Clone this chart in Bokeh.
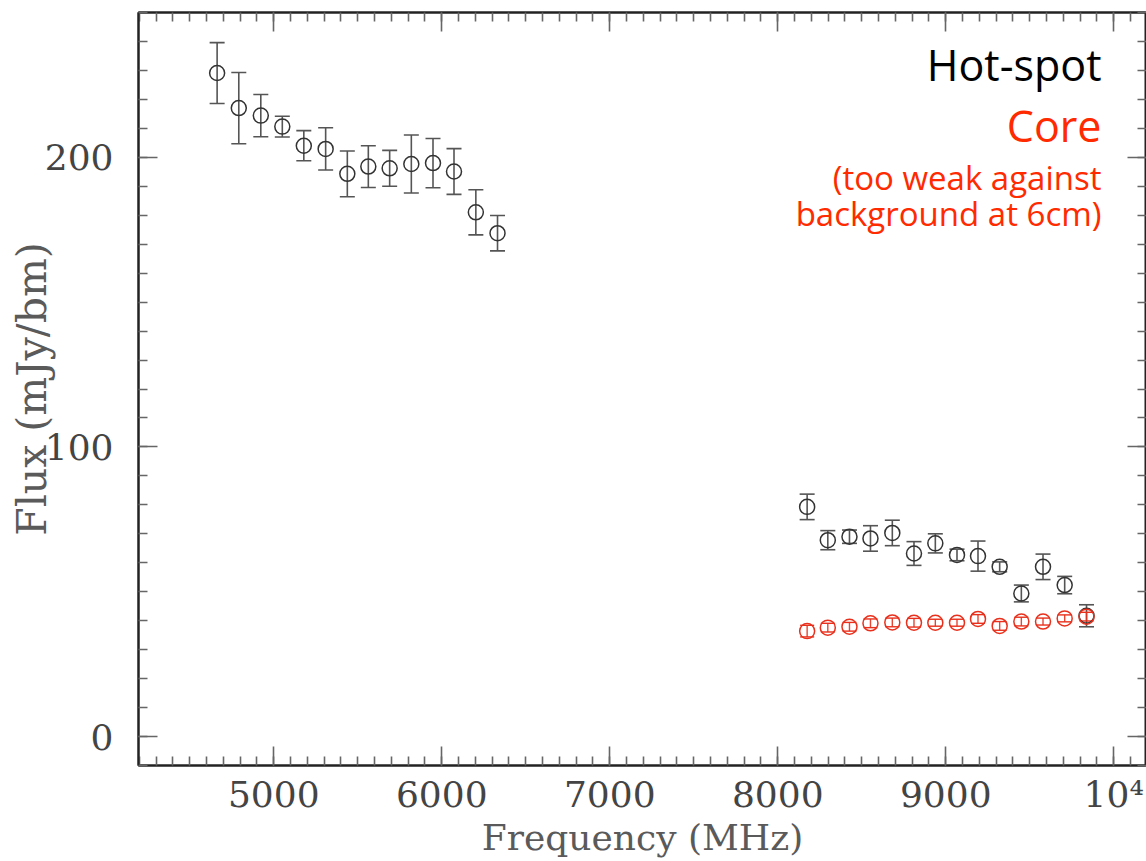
from bokeh.plotting import figure
from bokeh.models import (ColumnDataSource, Whisker, TeeHead, LinearAxis,
                          SingleIntervalTicker, Range1d, Label)
from bokeh.embed import file_html
from bokeh.resources import INLINE

# ---------------- data ----------------
hotspot_freq = [4663, 4792, 4923, 5051, 5179, 5309, 5438, 5563, 5690, 5819, 5948, 6073, 6203, 6332,
                8175, 8298, 8427, 8552, 8682, 8811, 8938, 9067, 9192, 9321, 9450, 9579, 9708, 9838]
hotspot_flux = [229.1, 217.0, 214.4, 210.6, 204.0, 202.9, 194.3, 196.8, 196.2, 197.7, 198.0, 195.1, 181.0, 173.8,
                79.3, 67.8, 69.0, 68.4, 70.3, 63.2, 66.7, 62.7, 62.3, 58.6, 49.4, 58.6, 52.3, 41.7]
hotspot_err = [10.5, 12.3, 7.3, 3.6, 5.2, 7.3, 7.9, 7.2, 6.2, 10.0, 8.5, 7.9, 7.8, 6.1,
               4.4, 3.3, 2.3, 4.4, 4.4, 4.1, 3.3, 2.0, 5.2, 1.7, 2.9, 4.4, 3.0, 3.8]

core_freq = [8175, 8298, 8427, 8552, 8682, 8811, 8938, 9067, 9192, 9321, 9450, 9579, 9708, 9838]
core_flux = [36.4, 37.6, 37.9, 39.1, 39.4, 39.3, 39.3, 39.3, 40.6, 38.2, 39.7, 39.7, 40.8, 41.4]
core_err = [2.0, 1.5, 1.5, 1.5, 1.5, 1.5, 1.2, 1.2, 1.5, 1.5, 1.5, 1.2, 1.2, 1.5]

x_tick_overrides = {10000: "10\u2074"}
x_label = "Frequency (MHz)"
y_label = "Flux (mJy/bm)"
annotations = ["Hot-spot", "Core", "(too weak against", "background at 6cm)"]

BLACK = "#333333"
RED = "#e8301c"
TXT_RED = "#ff2a00"
FONT = "DejaVu Serif"

hs = ColumnDataSource(dict(
    x=hotspot_freq, y=hotspot_flux,
    lo=[v - e for v, e in zip(hotspot_flux, hotspot_err)],
    hi=[v + e for v, e in zip(hotspot_flux, hotspot_err)]))
co = ColumnDataSource(dict(
    x=core_freq, y=core_flux,
    lo=[v - e for v, e in zip(core_flux, core_err)],
    hi=[v + e for v, e in zip(core_flux, core_err)]))

p = figure(width=1146, height=861, output_backend="svg", toolbar_location=None,
           x_range=Range1d(4195, 10195), y_range=Range1d(-10, 250),
           min_border_left=138, min_border_right=0, min_border_top=12, min_border_bottom=96,
           x_axis_location=None, y_axis_location=None)
p.grid.visible = False
p.outline_line_color = "#222222"
p.outline_line_width = 2
p.background_fill_color = "white"
p.border_fill_color = "white"


def style_axis(ax, labels=True):
    ax.axis_line_color = "#222222"
    ax.axis_line_width = 2
    ax.major_tick_in = 19
    ax.major_tick_out = 0
    ax.minor_tick_in = 9
    ax.minor_tick_out = 0
    ax.major_tick_line_color = "#666666"
    ax.minor_tick_line_color = "#666666"
    ax.major_tick_line_width = 1.6
    ax.minor_tick_line_width = 1.6
    if labels:
        ax.major_label_text_font = FONT
        ax.major_label_text_font_size = "36px"
        ax.major_label_text_color = "#444444"
        ax.axis_label_text_font = FONT
        ax.axis_label_text_font_style = "normal"
        ax.axis_label_text_color = "#5a5a5a"
    else:
        ax.major_label_text_color = None
        ax.major_label_text_font_size = "1px"
        ax.major_label_standoff = 0
        ax.axis_label = None


xb = LinearAxis(ticker=SingleIntervalTicker(interval=1000, num_minor_ticks=10), axis_label=x_label)
style_axis(xb)
xb.major_label_overrides = x_tick_overrides
xb.major_label_standoff = 8
xb.axis_label_text_font_size = "36px"
xb.axis_label_standoff = -1
p.add_layout(xb, "below")

xt = LinearAxis(ticker=SingleIntervalTicker(interval=1000, num_minor_ticks=10))
style_axis(xt, labels=False)
p.add_layout(xt, "above")

yl = LinearAxis(ticker=SingleIntervalTicker(interval=100, num_minor_ticks=10), axis_label=y_label)
style_axis(yl)
yl.major_label_standoff = 25
yl.axis_label_text_font_size = "41px"
yl.axis_label_standoff = -14
p.add_layout(yl, "left")

yr = LinearAxis(ticker=SingleIntervalTicker(interval=100, num_minor_ticks=10))
style_axis(yr, labels=False)
p.add_layout(yr, "right")

# error bars
p.add_layout(Whisker(source=hs, base="x", lower="lo", upper="hi", dimension="height",
                     line_color="#555555", line_width=1.6,
                     upper_head=TeeHead(size=15, line_color="#555555", line_width=1.6),
                     lower_head=TeeHead(size=15, line_color="#555555", line_width=1.6)))
p.add_layout(Whisker(source=co, base="x", lower="lo", upper="hi", dimension="height",
                     line_color=RED, line_width=1.4, line_alpha=0.9,
                     upper_head=TeeHead(size=14, line_color=RED, line_width=1.4),
                     lower_head=TeeHead(size=14, line_color=RED, line_width=1.4)))

p.scatter("x", "y", source=hs, marker="circle", size=15, fill_color=None,
          line_color=BLACK, line_width=1.5)
p.scatter("x", "y", source=co, marker="circle", size=15, fill_color=None,
          line_color=RED, line_width=1.5)

# annotation text (top right)
p.add_layout(Label(x=9927, y=232.0, text=annotations[0], text_align="right",
                   text_baseline="alphabetic", text_font="Open Sans",
                   text_font_size="43px", text_color="black"))
p.add_layout(Label(x=9927, y=211.0, text=annotations[1], text_align="right",
                   text_baseline="alphabetic", text_font="Open Sans",
                   text_font_size="43px", text_color=TXT_RED))
p.add_layout(Label(x=9927, y=193.2, text=annotations[2], text_align="right",
                   text_baseline="alphabetic", text_font="Open Sans",
                   text_font_size="33px", text_color=TXT_RED))
p.add_layout(Label(x=9927, y=180.7, text=annotations[3], text_align="right",
                   text_baseline="alphabetic", text_font="Open Sans",
                   text_font_size="33px", text_color=TXT_RED))

open("out.html", "w").write(file_html(p, INLINE))
